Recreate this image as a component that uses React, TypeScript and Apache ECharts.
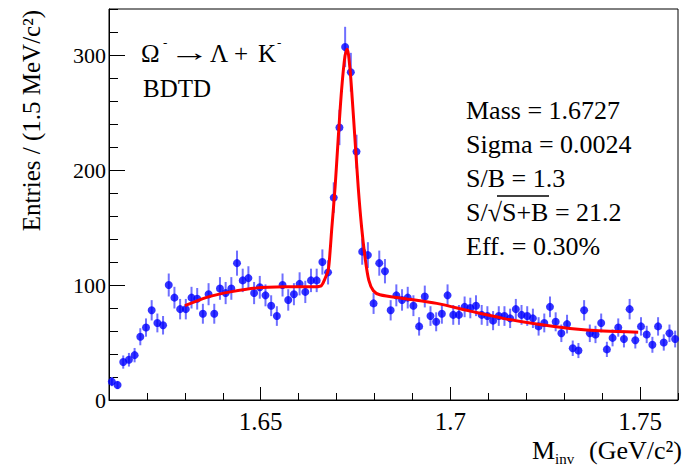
import React, { useEffect, useRef } from "react";
import * as echarts from "echarts";

// Histogram definition (bin centres come from these)
const binStart = 1.61;
const binWidth = 0.0015;

// Entries per bin
const counts = [
  16, 13, 33, 35, 39, 55, 63, 78, 67, 65,
  100, 89, 79, 79, 89, 88, 75, 92, 75, 97,
  93, 97, 119, 104, 106, 93, 98, 91, 82, 73,
  100, 87, 92, 101, 94, 104, 104, 120, 111, 176,
  237, 307, 285, 216, 129, 126, 84, 119, 112, 78,
  91, 87, 89, 82, 64, 90, 73, 68, 75, 91,
  74, 74, 81, 80, 82, 74, 73, 69, 73, 73,
  71, 79, 74, 73, 71, 64, 67, 81, 68, 58,
  66, 45, 43, 78, 58, 57, 67, 44, 54, 63,
  53, 79, 52, 64, 57, 48, 64, 50, 58, 53,
];

// Fit curve
const fitX = [
  1.63, 1.636, 1.642, 1.649, 1.657, 1.6645, 1.666, 1.667, 1.6678, 1.6683,
  1.6687, 1.6696, 1.6704, 1.6713, 1.6722, 1.6728, 1.6735, 1.6741, 1.6748,
  1.6757, 1.6766, 1.6775, 1.6785, 1.6797, 1.6814, 1.6876, 1.6964, 1.7052,
  1.7139, 1.7227, 1.7315, 1.7403, 1.7495,
];
const fitY = [
  82, 89.5, 94, 97.5, 98.4, 98.5, 99.5, 106, 113, 130,
  148, 185, 226, 269, 299, 305, 289, 263, 229,
  185, 150, 124, 104, 95, 91.5, 88.3, 84, 77.3,
  71, 66, 62.2, 59.9, 59,
];

const xMajorTicks = [1.65, 1.7, 1.75];
const xMinorTicks = [1.61, 1.62, 1.63, 1.64, 1.65, 1.66, 1.67, 1.68, 1.69, 1.7, 1.71, 1.72, 1.73, 1.74, 1.75, 1.76];
const yMajorTicks = [0, 100, 200, 300];
const yMinorTicks = [0, 20, 40, 60, 80, 100, 120, 140, 160, 180, 200, 220, 240, 260, 280, 300, 320, 340];

const statsLines = ["Mass = 1.6727", "Sigma = 0.0024", "S/B = 1.3", "S/\u221AS+B = 21.2", "Eff. = 0.30%"];

const FONT = '"Liberation Serif", "Times New Roman", serif';

export default function App() {
  const ref = useRef<HTMLDivElement>(null);

  useEffect(() => {
    if (!ref.current) return;
    const chart = echarts.init(ref.current, undefined, { renderer: "svg" });

    const pts = counts.map((v, i) => [binStart + binWidth * (i + 0.5), v]);
    const errData = counts.map((v, i) => [binStart + binWidth * (i + 0.5), v, Math.sqrt(v)]);
    const fit = fitX.map((x, i) => [x, fitY[i]]);

    const gridRect = { left: 109, top: 9, width: 569, height: 391 };

    const txt = (x: number, y: number, text: string, size: number, align = "left", extra: any = {}) => ({
      type: "text",
      x,
      y,
      silent: true,
      ...extra,
      style: {
        text,
        fill: "#000",
        fontFamily: FONT,
        fontSize: size,
        align,
        verticalAlign: "middle",
      },
    });

    const statsY = [110, 144, 178, 212, 246];

    const graphic: any[] = [
      txt(141, 53, "\u03A9", 25),
      txt(163, 42, "-", 13),
      txt(169, 53, "\u2192", 25, "left", { scaleX: 1.65 }),
      txt(210, 53, "\u039B", 25),
      txt(234, 53, "+", 25),
      txt(258, 53, "K", 25),
      txt(277, 42, "-", 13),
      txt(143, 88.5, "BDTD", 25),
      ...statsLines.map((s, i) => txt(466, statsY[i], s, 26)),
      {
        type: "line",
        silent: true,
        shape: { x1: 497, y1: 196, x2: 549, y2: 196 },
        style: { stroke: "#000", lineWidth: 1.3 },
      },
      txt(532, 450, "M", 26),
      txt(555, 459, "inv", 15),
      txt(682, 450, "(GeV/c\u00B2)", 26, "right"),
      txt(31, 10, "Entries / (1.5 MeV/c\u00B2)", 25, "right", { rotation: Math.PI / 2 }),
    ];

    chart.setOption({
      animation: false,
      backgroundColor: "#fff",
      grid: [
        { ...gridRect, show: true, borderColor: "#000", borderWidth: 1, backgroundColor: "transparent" },
        { ...gridRect, show: false },
      ],
      xAxis: [
        {
          type: "value",
          gridIndex: 0,
          min: 1.61,
          max: 1.76,
          axisLine: { show: true, lineStyle: { color: "#000", width: 1 } },
          axisTick: { show: true, inside: true, length: 13, customValues: xMajorTicks, lineStyle: { color: "#000" } },
          axisLabel: {
            show: true,
            customValues: xMajorTicks,
            formatter: (v: number) => String(+v.toFixed(2)),
            fontFamily: FONT,
            fontSize: 25,
            color: "#000",
            margin: 9,
          },
          splitLine: { show: false },
        },
        {
          type: "value",
          gridIndex: 1,
          min: 1.61,
          max: 1.76,
          axisLine: { show: false },
          axisTick: { show: true, inside: true, length: 7, customValues: xMinorTicks, lineStyle: { color: "#000" } },
          axisLabel: { show: false },
          splitLine: { show: false },
        },
      ],
      yAxis: [
        {
          type: "value",
          gridIndex: 0,
          min: 0,
          max: 340,
          axisLine: { show: true, lineStyle: { color: "#000", width: 1 } },
          axisTick: { show: true, inside: true, length: 16, customValues: yMajorTicks, lineStyle: { color: "#000" } },
          axisLabel: {
            show: true,
            customValues: yMajorTicks,
            fontFamily: FONT,
            fontSize: 22,
            color: "#000",
            margin: 3,
          },
          splitLine: { show: false },
        },
        {
          type: "value",
          gridIndex: 1,
          min: 0,
          max: 340,
          axisLine: { show: false },
          axisTick: { show: true, inside: true, length: 9, customValues: yMinorTicks, lineStyle: { color: "#000" } },
          axisLabel: { show: false },
          splitLine: { show: false },
        },
      ],
      series: [
        {
          type: "custom",
          xAxisIndex: 0,
          yAxisIndex: 0,
          data: errData,
          z: 2,
          silent: true,
          renderItem: (params: any, api: any) => {
            const x = api.value(0);
            const y = api.value(1);
            const e = api.value(2);
            const p1 = api.coord([x, y + e]);
            const p2 = api.coord([x, y - e]);
            return {
              type: "line",
              shape: { x1: p1[0], y1: p1[1], x2: p2[0], y2: p2[1] },
              style: { stroke: "#6f6fff", lineWidth: 2 },
            };
          },
        },
        {
          type: "scatter",
          xAxisIndex: 0,
          yAxisIndex: 0,
          data: pts,
          symbol: "circle",
          symbolSize: 8,
          itemStyle: { color: "#0000ff" },
          z: 3,
          silent: true,
        },
        {
          type: "line",
          xAxisIndex: 0,
          yAxisIndex: 0,
          data: fit,
          smooth: 0.3,
          showSymbol: false,
          symbol: "none",
          lineStyle: { color: "#ff0000", width: 3 },
          z: 4,
          silent: true,
        },
      ],
      graphic,
    });

    return () => chart.dispose();
  }, []);

  return (
    <div
      ref={ref}
      style={{ position: "fixed", left: 0, top: 0, width: 683, height: 466, background: "#fff" }}
    />
  );
}
